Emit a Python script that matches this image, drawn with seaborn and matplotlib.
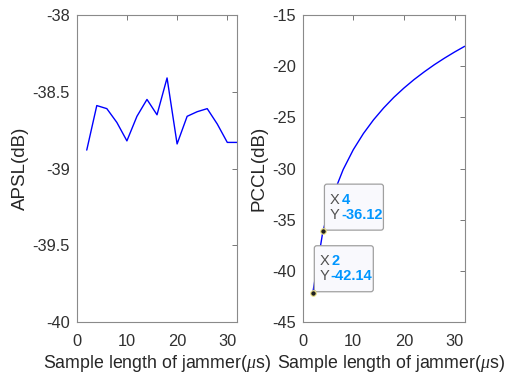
import matplotlib
matplotlib.use('Agg')
import matplotlib.pyplot as plt
import seaborn as sns
import pandas as pd
from matplotlib.ticker import FormatStrFormatter
from matplotlib.patches import FancyBboxPatch
from matplotlib.transforms import IdentityTransform, ScaledTranslation

# sample length of jammer (us)
sample_len = [2, 4, 6, 8, 10, 12, 14, 16, 18, 20, 22, 24, 26, 28, 30, 32]
# APSL (dB)
apsl = [-38.88, -38.59, -38.61, -38.70, -38.82, -38.66, -38.55, -38.65,
        -38.41, -38.84, -38.66, -38.63, -38.61, -38.71, -38.83, -38.83]
# PCCL (dB)
pccl = [-42.14, -36.12, -32.60, -30.10, -28.16, -26.58, -25.24, -24.08,
        -23.05, -22.14, -21.31, -20.56, -19.86, -19.22, -18.62, -18.06]

# data tips shown on the right panel
tip_x = [2, 4]
tip_y = [-42.14, -36.12]

df = pd.DataFrame({'len': sample_len, 'apsl': apsl, 'pccl': pccl})

sns.set_style('white')
plt.rcParams['font.family'] = ['Liberation Sans', 'DejaVu Sans']
plt.rcParams['mathtext.fontset'] = 'custom'
plt.rcParams['mathtext.it'] = 'Liberation Serif:italic'
plt.rcParams['axes.unicode_minus'] = False

fig = plt.figure(figsize=(5.07, 3.75), dpi=100)
ax1 = fig.add_axes([0.1513, 0.1413, 0.3168, 0.8187])
ax2 = fig.add_axes([0.597, 0.1413, 0.3195, 0.8187])

sns.lineplot(x='len', y='apsl', data=df, ax=ax1, color='#0000ff', lw=1)
sns.lineplot(x='len', y='pccl', data=df, ax=ax2, color='#0000ff', lw=1)

ax1.set_ylim(-40, -38)
ax1.set_yticks([-40, -39.5, -39, -38.5, -38])
ax2.set_ylim(-45, -15)
ax2.set_yticks(range(-45, -14, 5))

xlab = r'Sample length of jammer($\mu$s)'
for ax, lab in [(ax1, 'APSL(dB)'), (ax2, 'PCCL(dB)')]:
    ax.set_xlim(0, 32)
    ax.set_xticks([0, 10, 20, 30])
    ax.yaxis.set_major_formatter(FormatStrFormatter('%g'))
    ax.set_xlabel(xlab, fontsize=12.8, color='#262626', labelpad=3)
    ax.set_ylabel(lab, fontsize=13.5, color='#262626', labelpad=3)
    ax.tick_params(direction='in', length=3.5, width=0.6, color='#606060',
                   labelsize=11.8, labelcolor='#303030', top=True, right=True)
    ax.tick_params(axis='x', pad=8.5)
    ax.tick_params(axis='y', pad=4.8)
    for s in ax.spines.values():
        s.set_color('#8a8a8a')
        s.set_linewidth(0.8)

# right xlabel sits a little to the right in the original
ax2.xaxis.label.set_x(0.545)

# data tips (offsets in pixels from the marked point)
blue = '#0096ff'
for x, y in zip(tip_x, tip_y):
    base = IdentityTransform() + ScaledTranslation(x, y, ax2.transData)
    box = FancyBboxPatch((1.5, 1), 59, 46, boxstyle='round,pad=0,rounding_size=2.5',
                         transform=base, facecolor='#f9f9fd', edgecolor='#a0a0a0',
                         lw=0.9, zorder=4)
    ax2.add_patch(box)
    ax2.text(7, 27.5, 'X', transform=base, color='#505050', fontsize=10.5,
             va='baseline', zorder=6)
    ax2.text(19, 27.5, f'{x:g}', transform=base, color=blue, fontsize=10.5,
             fontweight='bold', va='baseline', zorder=6)
    ax2.text(7, 12.5, 'Y', transform=base, color='#505050', fontsize=10.5,
             va='baseline', zorder=6)
    ax2.text(18, 12.5, f'{y:.2f}', transform=base, color=blue, fontsize=10.5,
             fontweight='bold', va='baseline', zorder=6)
ax2.plot(tip_x, tip_y, 'o', ms=4, mfc='#202020', mec='#f0e68c', mew=0.8, zorder=7)

fig.savefig('out.png', dpi=100)
